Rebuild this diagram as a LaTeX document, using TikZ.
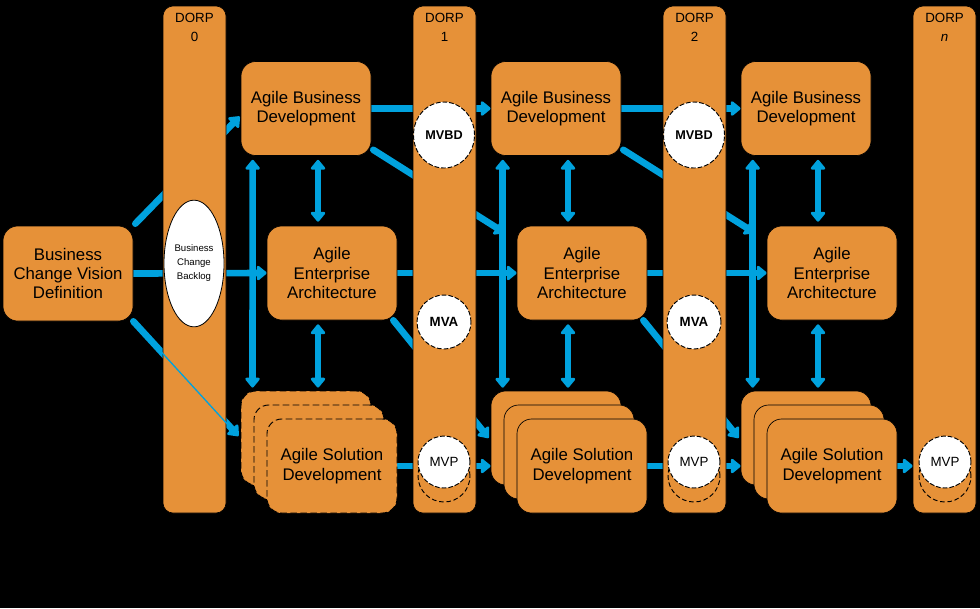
\documentclass[tikz,border=0pt]{standalone}
\usepackage{fontspec}
\setmainfont{Liberation Sans}
\usetikzlibrary{arrows.meta,calc,shapes.geometric}
\pgfdeclarelayer{back}
\pgfdeclarelayer{arr}
\pgfsetlayers{back,arr,main}
\definecolor{corange}{RGB}{230,145,56}
\definecolor{cblue}{RGB}{0,162,222}
\begin{document}
\begin{tikzpicture}[x=0.75pt,y=-0.75pt,
  conn/.style={draw=cblue,line width=5pt,line cap=round,-{Triangle[length=8pt,width=12.5pt,round]}},
  dconn/.style={draw=cblue,line width=5pt,line cap=round,{Triangle[length=8pt,width=12.5pt,round]}-{Triangle[length=8pt,width=12.5pt,round]}},
  box/.style={draw=black,line width=0.5pt,fill=corange,rounded corners=11pt,minimum width=97.5pt,minimum height=70.5pt,inner sep=0pt,align=center,font=\fontsize{12.6}{14.5}\selectfont},
  dbox/.style={box,dash pattern=on 5pt off 2.5pt,line width=0.7pt},
  column/.style={draw=black,line width=0.5pt,fill=corange,rounded corners=7.5pt,minimum width=47.25pt,minimum height=380.25pt,inner sep=0pt},
  collab/.style={align=center,font=\fontsize{10}{14.5}\selectfont,inner sep=0pt},
  mv/.style={circle,draw=black,fill=white,dash pattern=on 3.5pt off 1.5pt,line width=0.7pt,inner sep=0pt},
  mvback/.style={circle,draw=black,fill=corange,dash pattern=on 3.5pt off 2pt,line width=0.7pt,inner sep=0pt,minimum size=39pt},
  backlog/.style={ellipse,draw=black,fill=white,line width=0.6pt,minimum width=45pt,minimum height=95pt,inner sep=0pt,align=center,font=\fontsize{7.2}{10.5}\selectfont}
]
\useasboundingbox (0,0) rectangle (980,608);
\begin{pgfonlayer}{back}
  \fill[black] (0,0) rectangle (980,608);
\end{pgfonlayer}

% columns
\node[column] (d0) at (194.5,259.5) {};
\node[column] (d1) at (444.5,259.5) {};
\node[column] (d2) at (694.5,259.5) {};
\node[column] (dn) at (944.5,259.5) {};
\node[collab] (l0) at (194.5,27.5) {DORP\\0};
\node[collab] (l1) at (444.5,27.5) {DORP\\1};
\node[collab] (l2) at (694.5,27.5) {DORP\\2};
\node[collab] (ln) at (944.5,27.5) {DORP\\\textit{n}};

% vision and backlog
\node[box,minimum height=71.25pt] (bcvd) at (68,273.5) {Business\\Change Vision\\Definition};
\node[backlog] (bl) at (194,263.5) {Business\\Change\\Backlog};

% boxes
\foreach \i/\x in {1/0,2/250,3/500} {
  \node[box] (abd\i) at (306+\x,108.5) {Agile Business\\Development};
  \node[box] (aea\i) at (332+\x,273) {Agile\\Enterprise\\Architecture};
}
\node[dbox] (asdc1) at (306,438) {};
\node[dbox] (asdb1) at (319,452) {};
\node[dbox] (asd1) at (332,466) {Agile Solution\\Development};
\foreach \i/\x in {2/250,3/500} {
  \node[box] (asdc\i) at (306+\x,438) {};
  \node[box] (asdb\i) at (319+\x,452) {};
  \node[box] (asd\i) at (332+\x,466) {Agile Solution\\Development};
}

% minimum viable nodes
\foreach \i/\x in {1/444,2/694} {
  \node[mv,ellipse,minimum width=45.75pt,minimum height=49.5pt,font=\bfseries\fontsize{9.5}{11}\selectfont] (mvbd\i) at (\x,135) {MVBD};
  \node[mv,minimum size=40.5pt,font=\bfseries\fontsize{10}{12}\selectfont] (mva\i) at (\x,322) {MVA};
}
\foreach \i/\x in {1/444,2/694,n/945} {
  \node[mvback] (mvpb\i) at (\x,476) {};
  \node[mv,minimum size=39pt,font=\fontsize{10}{12}\selectfont] (mvp\i) at (\x,462) {MVP};
}

% connectors (behind the columns and boxes)
\begin{pgfonlayer}{arr}
  \draw[conn] ($(bcvd.north east)+(2,-2)$) -- ($(abd1.west)+(-1,8)$);
  \draw[conn] (bcvd.east) -- (aea1.west);
  \draw[conn] (bcvd.south east) -- ($(asdc1.west)+(-2,-2)$);
  \foreach \i in {1,2,3} {
    \draw[dconn] ($(abd\i.south west)+(12,4)$) -- ($(asdc\i.north west)+(12,-3)$);
    \draw[dconn] ($(abd\i.south)+(12,4)$) -- ($(aea\i.north)+(-14,-4)$);
    \draw[dconn] ($(aea\i.south)+(-14,4)$) -- ($(asdc\i.north)+(12,-3)$);
  }
  \foreach \i/\j in {1/2,2/3} {
    \draw[conn] (abd\i.east) -- (abd\j.west);
    \draw[conn] ($(abd\i.south east)+(2,-6)$) -- ($(abd\j.south west)+(14,77)$);
    \draw[conn] (aea\i.east) -- (aea\j.west);
    \draw[conn] ($(aea\i.south east)+(-4,0)$) -- ($(asdc\j.west)+(-2,0)$);
    \draw[conn] (asd\i.east) -- (asdc\j.west |- asd\i.east);
  }
  \draw[conn] (asd3.east) -- (dn.west |- asd3.east);
\end{pgfonlayer}
\draw[cblue,line width=1pt] (bcvd.south east) -- ($(asdc1.west)+(-6,-6)$);
\end{tikzpicture}
\end{document}
